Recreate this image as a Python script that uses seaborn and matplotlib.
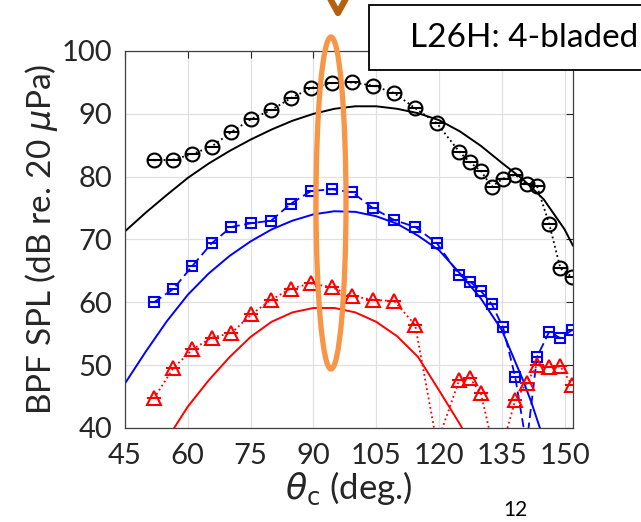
import numpy as np
import pandas as pd
import matplotlib.pyplot as plt
import seaborn as sns
from matplotlib.patches import Ellipse, Rectangle
from matplotlib.lines import Line2D

sns.set_style("white")
plt.rcParams['font.family'] = ['Lato', 'DejaVu Sans']
plt.rcParams['mathtext.fontset'] = 'dejavusans'

# measured BPF directivity (markers)
theta_meas = [51.9, 56.5, 61.1, 65.7, 70.4, 75.2, 79.9, 84.6, 89.4, 94.4, 99.3, 104.2, 109.3,
              114.3, 119.5, 124.8, 127.4, 130.0, 132.6, 135.3, 138.2, 140.9, 143.4, 146.3, 149.0, 151.8]
spl_black = [82.6, 82.7, 83.6, 84.8, 87.1, 89.2, 90.6, 92.5, 94.1, 94.9, 95.0, 94.5, 93.3,
             90.9, 88.5, 84.0, 82.3, 80.9, 78.4, 79.7, 80.3, 78.8, 78.5, 72.5, 65.4, 64.0]
spl_blue = [60.0, 62.1, 65.8, 69.4, 72.0, 72.6, 73.0, 75.7, 77.7, 78.0, 77.5, 75.0, 73.1,
            72.0, 69.4, 64.4, 63.3, 61.8, 59.7, 56.0, 48.1, 37.3, 51.3, 55.3, 54.3, 55.6]
spl_red = [44.7, 49.5, 52.5, 54.4, 55.1, 58.1, 60.4, 62.2, 63.0, 62.4, 61.0, 60.4, 60.2,
           56.4, 37.5, 47.6, 47.9, 45.5, 38.0, 37.5, 44.4, 47.1, 50.0, 49.7, 49.8, 46.8]

# predictions (solid curves)
theta_pred_black = [45, 50, 55, 60, 65, 70, 75, 80, 85, 90, 95, 100, 105, 110, 115, 120,
                    125, 130, 135, 140, 145, 150, 152]
pred_black = [71.3, 74.3, 77.1, 79.8, 82.1, 84.1, 85.9, 87.5, 88.9, 90.0, 90.8, 91.2, 91.2,
              90.8, 90.1, 89.0, 87.2, 84.9, 82.2, 79.6, 76.4, 71.6, 69.0]
theta_pred_blue = [45, 50, 55, 60, 65, 70, 75, 80, 85, 90, 95, 100, 105, 110, 115, 120,
                   125, 130, 135, 140, 142, 144, 146]
pred_blue = [47.1, 52.2, 57.0, 61.2, 64.6, 67.4, 69.7, 71.6, 73.0, 74.0, 74.5, 74.4, 73.7,
             72.5, 70.6, 68.3, 64.6, 60.6, 55.6, 47.7, 44.2, 40.2, 36.5]
theta_pred_red = [55, 60, 65, 70, 75, 80, 85, 90, 95, 100, 105, 110, 115, 120, 125, 128]
pred_red = [38.2, 43.4, 47.6, 51.3, 54.5, 56.9, 58.4, 59.1, 59.1, 58.4, 56.9, 54.6, 51.3,
            46.0, 40.6, 37.0]

x_ticks = [45, 60, 75, 90, 105, 120, 135, 150]
y_ticks = [40, 50, 60, 70, 80, 90, 100]

W, H = 641, 522
fig = plt.figure(figsize=(W / 100, H / 100), dpi=100)
ax = fig.add_axes([125 / W, 1 - 428 / H, (573 - 125) / W, (428 - 51) / H])

sns.lineplot(x=theta_pred_black, y=pred_black, ax=ax, color='k', lw=1.4)
sns.lineplot(x=theta_pred_blue, y=pred_blue, ax=ax, color='#0000ff', lw=1.4)
sns.lineplot(x=theta_pred_red, y=pred_red, ax=ax, color='#ff0000', lw=1.4)

series = [
    (spl_black, 'k', ':', 'o', 10),
    (spl_blue, '#0000ff', (0, (5, 2.5)), 's', 7.5),
    (spl_red, '#ff0000', ':', '^', 10),
]
for vals, col, ls, mk, ms in series:
    sns.lineplot(x=theta_meas, y=vals, ax=ax, color=col, linestyle=ls, lw=1.3,
                 marker=mk, markersize=ms, markerfacecolor='none',
                 markeredgecolor=col, markeredgewidth=1.5)
    ax.plot(theta_meas, vals, ls='none', marker='_', ms=ms, mew=1.5, color=col)

ax.set_xlim(45, 152)
ax.set_ylim(40, 100)
ax.set_xticks(x_ticks)
ax.set_yticks(y_ticks)
ax.grid(True, color='#e0e0e0', lw=0.9)
ax.tick_params(direction='in', top=True, right=True, length=5, width=0.8,
               colors='#262626', labelsize=21)
ax.tick_params(axis='x', pad=11)
ax.tick_params(axis='y', pad=9)
for sp in ax.spines.values():
    sp.set_color('#404040')
    sp.set_linewidth(0.9)

ax.set_xlabel(r'$\theta_{\mathrm{c}}$ (deg.)', fontsize=25, color='#262626', labelpad=0)
ax.set_ylabel(r'BPF SPL (dB re. 20 $\mu$Pa)', fontsize=24, color='#262626', labelpad=1)

# annotation box
box = Rectangle((369 / W, 1 - 70 / H), 300 / W, 65 / H, transform=fig.transFigure,
                facecolor='white', edgecolor='black', lw=1.3, zorder=5)
fig.add_artist(box)
fig.text(410 / W, 1 - 38 / H, 'L26H: 4-bladed', fontsize=24, va='center', ha='left',
         color='black', zorder=6)

# highlight ellipse and arrow tip
ell = Ellipse((331 / W, 1 - 203 / H), 30 / W, 332 / H, transform=fig.transFigure,
              fill=False, edgecolor='#F79646', lw=3.8, zorder=7)
fig.add_artist(ell)
fig.add_artist(Line2D([328 / W, 338 / W, 348 / W], [1.01, 1 - 13 / H, 1.01],
                      transform=fig.transFigure, color='#B4600F', lw=4.5, zorder=7))

fig.text(515 / W, 1 - 510 / H, '12', fontsize=15, ha='center', va='center', color='black')

fig.savefig('out.png', dpi=100, facecolor='white')
